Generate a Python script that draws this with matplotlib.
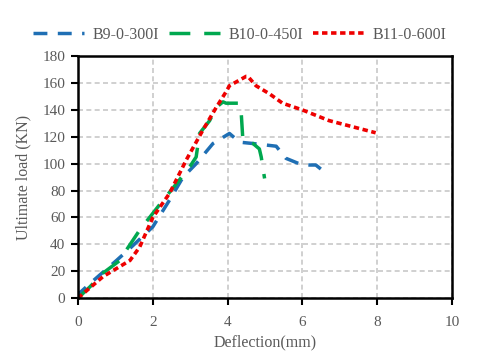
import matplotlib
matplotlib.use("Agg")
import matplotlib.pyplot as plt

# B9-0-300I
b9_x = [0, 0.05, 0.41, 1.03, 1.39, 2.0, 2.45, 2.81, 3.16, 3.61, 4.05, 4.32, 4.68, 5.3, 5.56, 6.0, 6.36, 6.54]
b9_y = [0, 4, 13, 28, 37, 53, 73, 90, 100, 115, 122.5, 116, 115, 113, 104, 99, 99, 95]

# B10-0-450I
b10_x = [0, 0.32, 0.67, 1.12, 1.3, 1.65, 2.0, 2.28, 2.63, 2.99, 3.16, 3.25, 3.52, 3.7, 3.88, 3.96, 4.32, 4.36, 4.41, 4.68, 4.85, 4.9, 4.99]
b10_y = [0, 8.4, 18.6, 28, 36, 50.6, 63, 73, 85, 97.7, 105, 122.5, 132, 142, 146, 145, 145, 140, 117.5, 115, 111, 105, 89]

# B11-0-600I
b11_x = [0, 0.67, 1.39, 1.65, 2.0, 2.45, 2.9, 3.34, 3.7, 3.96, 4.05, 4.5, 4.54, 4.76, 5.12, 5.47, 6.0, 6.72, 7.96]
b11_y = [0, 16, 28, 38, 60, 78, 103, 125, 142, 153.5, 158, 165, 165, 158, 152, 145, 140, 132, 123]

grey = "#595959"
plt.rcParams["font.family"] = ["Liberation Serif", "DejaVu Serif"]

fig = plt.figure(figsize=(4.8, 3.6), dpi=100)
ax = fig.add_axes([0.1625, 0.172, 0.779, 0.672])

ax.plot(b9_x, b9_y, color="#1F6FB4", lw=2.5, dashes=(4, 3), label="B9-0-300I")
ax.plot(b10_x, b10_y, color="#00A84F", lw=2.5, dashes=(6, 4), label="B10-0-450I")
ax.plot(b11_x, b11_y, color="#EE0000", lw=2.6, dashes=(1.5, 1.0), label="B11-0-600I")

ax.set_xlim(0, 10)
ax.set_ylim(0, 180)
ax.set_xticks(range(0, 11, 2))
ax.set_yticks(range(0, 181, 20))
ax.grid(True, color="#C8C8C8", linestyle=(0, (3, 2)), lw=1.2)
ax.set_axisbelow(True)

for s in ax.spines.values():
    s.set_color("black")
    s.set_linewidth(1.8)
ax.tick_params(axis="both", colors=grey, labelsize=11, length=5, width=1.5, pad=4)
ax.tick_params(axis="both", color="black")
ax.tick_params(axis="x", pad=8)

ax.set_xlabel("Deflection(mm)", color=grey, fontsize=11.5, labelpad=4)
ax.set_ylabel("Ultimate load (KN)", color=grey, fontsize=11.5, labelpad=8)

leg = fig.legend(loc="upper center", bbox_to_anchor=(0.5, 0.965), ncol=3, frameon=False,
                 fontsize=11.5, handlelength=3.2, columnspacing=0.6, handletextpad=0.55)
for t in leg.get_texts():
    t.set_color(grey)

fig.savefig("out.png", dpi=100)
